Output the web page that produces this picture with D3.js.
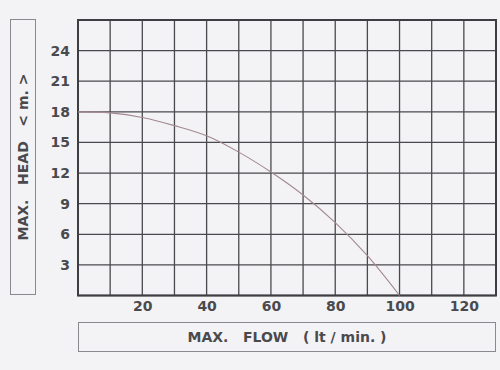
<!DOCTYPE html>
<html><head><meta charset="utf-8">
<script src="https://cdn.jsdelivr.net/npm/d3@7"></script>
<style>
html,body{margin:0;padding:0;background:#f3f3f5;}
svg{display:block;}
</style></head>
<body>
<svg id="c" width="500" height="370"></svg>
<script>
const flow = [0, 10, 20, 30, 40, 50, 60, 70, 80, 90, 100];
const head = [18, 17.9, 17.45, 16.65, 15.65, 14.05, 12.1, 9.85, 7.15, 3.9, 0];
const xTicks = [20, 40, 60, 80, 100, 120];
const yTicks = [3, 6, 9, 12, 15, 18, 21, 24];
const xGrid = d3.range(0, 131, 10);
const yGrid = d3.range(0, 28, 3);
const xLabel = "MAX.   FLOW   ( lt / min. )";
const yLabel = "MAX.   HEAD   < m. >";

const svg = d3.select("#c");
const L = 78, R = 496, T = 20, B = 295.5;
const x = d3.scaleLinear().domain([0, 130]).range([L, R]);
const y = d3.scaleLinear().domain([0, 27]).range([B, T]);
const ink = "#4a4a4e";
const font = "'DejaVu Sans', Verdana, sans-serif";

const g = svg.append("g");
g.selectAll("line.v").data(xGrid).enter().append("line")
  .attr("x1", d => x(d)).attr("x2", d => x(d)).attr("y1", T).attr("y2", B)
  .attr("stroke", ink).attr("stroke-width", 1.3);
g.selectAll("line.h").data(yGrid).enter().append("line")
  .attr("y1", d => y(d)).attr("y2", d => y(d)).attr("x1", L).attr("x2", R)
  .attr("stroke", ink).attr("stroke-width", 1.3);
g.append("rect").attr("x", L).attr("y", T).attr("width", R - L).attr("height", B - T)
  .attr("fill", "none").attr("stroke", "#3e3e42").attr("stroke-width", 2);

const xa = svg.append("g").attr("transform", `translate(0,${B})`)
  .call(d3.axisBottom(x).tickValues(xTicks).tickSize(0).tickPadding(6));
xa.select(".domain").remove();
xa.selectAll("text").attr("font-family", font).attr("font-weight", "bold")
  .attr("font-size", 14).attr("fill", "#4a4a4e");
const ya = svg.append("g").attr("transform", `translate(${L},0)`)
  .call(d3.axisLeft(y).tickValues(yTicks).tickSize(0).tickPadding(8));
ya.select(".domain").remove();
ya.selectAll("text").attr("font-family", font).attr("font-weight", "bold")
  .attr("font-size", 14).attr("fill", "#4a4a4e");

const pts = flow.map((f, i) => [f, head[i]]);
svg.append("path").datum(pts)
  .attr("d", d3.line().x(d => x(d[0])).y(d => y(d[1])).curve(d3.curveCatmullRom.alpha(0.5)))
  .attr("fill", "none").attr("stroke", "#a2888f").attr("stroke-width", 1.1);

svg.append("rect").attr("x", 10.5).attr("y", 19.5).attr("width", 25).attr("height", 275)
  .attr("fill", "none").attr("stroke", "#8a8a8e").attr("stroke-width", 1);
svg.append("text").attr("transform", "translate(28,157) rotate(-90)")
  .attr("text-anchor", "middle").attr("font-family", font).attr("font-weight", "bold")
  .attr("font-size", 14).attr("fill", "#4a4a4e").attr("xml:space", "preserve")
  .style("white-space", "pre").text(yLabel);
svg.append("rect").attr("x", 78.5).attr("y", 322.5).attr("width", 417).attr("height", 29)
  .attr("fill", "none").attr("stroke", "#8a8a8e").attr("stroke-width", 1);
svg.append("text").attr("x", 287).attr("y", 342)
  .attr("text-anchor", "middle").attr("font-family", font).attr("font-weight", "bold")
  .attr("font-size", 14).attr("fill", "#4a4a4e").attr("xml:space", "preserve")
  .style("white-space", "pre").text(xLabel);
</script>
</body></html>
